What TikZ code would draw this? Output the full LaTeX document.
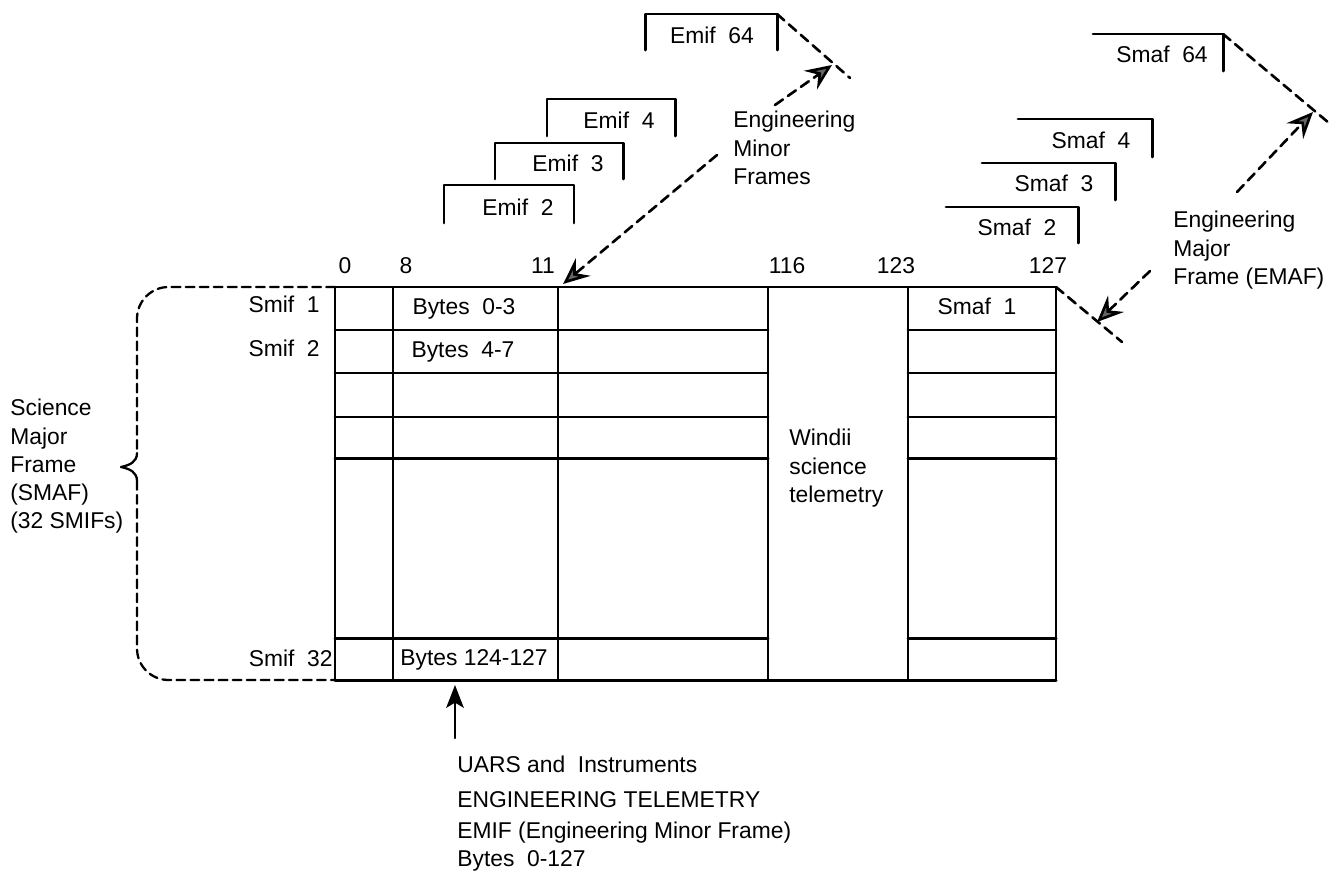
\documentclass[tikz,border=0pt]{standalone}
\usepackage{fontspec}
\setmainfont{Liberation Sans}
\usetikzlibrary{arrows.meta}
\tikzset{
	rowline/.style={line width=1.7pt},
	colline/.style={line width=1.3pt},
	dashline/.style={line width=1.5pt, dash pattern=on 5.5pt off 3.5pt},
	bracket/.style={line width=1.3pt, dash pattern=on 5pt off 3pt},
	tipgray/.style={-{Stealth[length=15pt, width=13pt, inset=5.5pt, fill=black!60]}},
	tipblack/.style={-{Stealth[length=13pt, width=10pt, inset=3pt]}},
	txt/.style={inner sep=0pt}
}
\begin{document}
\begin{tikzpicture}[x=0.02cm, y=-0.02cm, font=\fontsize{13}{16}\selectfont, line join=round, line cap=round]
	\useasboundingbox (0,0) rectangle (1329,876);
	\path
	(335,287) coordinate (NW)
	(1056,287) coordinate (NE)
	(335,680) coordinate (SW)
	(1056,680) coordinate (SE)
	(777,14) coordinate (E64)
	(850,78) coordinate (E64end)
	(1223,34) coordinate (S64)
	(1329,123) coordinate (S64end)
	(1122,342) coordinate (NEend)
	(717,155) coordinate (mA) (563,284) coordinate (mAtip)
	(775,105) coordinate (mB) (832,65) coordinate (mBtip)
	(1150,271) coordinate (jA) (1097,322) coordinate (jAtip)
	(1237,192) coordinate (jB) (1313,112) coordinate (jBtip)
	(455,738) coordinate (up) (455,685) coordinate (uptip)
	;
	% main frame
	\draw[rowline] (NW)--(NE) (SW)--(SE);
	\foreach \y in {330,373,417,458,638}
		\draw[rowline] (335,\y)--(768,\y) (908,\y)--(1056,\y);
	\foreach \x in {335,393,558,768,908,1056}
		\draw[colline] (\x,287)--(\x,680);
	\foreach \x/\t in {345/0, 406/8, 543/11, 787/116, 896/123, 1048/127}
		\node[txt] (col\t) at (\x,266) {\t};
	
	\node[txt, anchor=mid east] (smif1) at (320,308) {Smif~~1};
	\node[txt, anchor=mid east] (smif2) at (320,352) {Smif~~2};
	\node[txt, anchor=mid east] (smif32) at (333,662) {Smif~~32};
	\node[txt] (b0) at (464,309) {Bytes~~0-3};
	\node[txt] (b4) at (463,352) {Bytes~~4-7};
	\node[txt] (b124) at (474,660) {Bytes 124-127};
	\node[txt] (smaf1) at (977,306) {Smaf~~1};
	\node[txt, align=left, anchor=north west] (windii) at (789,429) {Windii\\science\\telemetry};
	
	% left bracket
	\draw[bracket, rounded corners=18] (NW)--(137,287)--(137,453);
	\draw[line width=1.3pt] (137,453) .. controls (137,462) and (130,465) .. (121,467) .. controls (130,469) and (137,472) .. (137,481);
	\draw[bracket, rounded corners=18] (137,481)--(137,680)--(SW);
	\node[txt, align=left, anchor=north west] (smaf) at (10,399) {Science\\Major\\Frame\\(SMAF)\\(32 SMIFs)};
	
	% minor frames
	\draw[rowline] (645,50) |- (E64) -- (777,50);
	\draw[rowline] (547,136) |- (675,99) -- (675,136);
	\draw[rowline] (495,179) |- (623,143) -- (623,179);
	\draw[rowline] (444,223) |- (574,185) -- (574,223);
	\node[txt] (emif64) at (712,35) {Emif~~64};
	\node[txt] (emif4) at (619,120) {Emif~~4};
	\node[txt] (emif3) at (568,163) {Emif~~3};
	\node[txt] (emif2) at (518,207) {Emif~~2};
	\draw[dashline] (E64)--(E64end);
	\node[txt, align=left, anchor=north west] (minor) at (733,111) {Engineering\\Minor\\Frames};
	\draw[dashline, tipgray] (mA)--(mAtip);
	\draw[dashline, tipgray] (mB)--(mBtip);
	
	% major frames
	\draw[rowline] (1093,34) -| (1223,71);
	\draw[rowline] (1018,119) -| (1152,157);
	\draw[rowline] (982,163) -| (1115,200);
	\draw[rowline] (946,207) -| (1078,243);
	\node[txt] (smaf64) at (1162,54) {Smaf~~64};
	\node[txt] (smaf4) at (1091,140) {Smaf~~4};
	\node[txt] (smaf3) at (1054,183) {Smaf~~3};
	\node[txt] (smaf2) at (1017,227) {Smaf~~2};
	\draw[dashline] (S64)--(S64end);
	\draw[dashline] (NE)--(NEend);
	\node[txt, align=left, anchor=north west] (major) at (1173,211) {Engineering\\Major\\Frame (EMAF)};
	\draw[dashline, tipgray] (jA)--(jAtip);
	\draw[dashline, tipgray] (jB)--(jBtip);
	
	% engineering telemetry
	\draw[line width=1.4pt, tipblack] (up)--(uptip);
	\node[txt, anchor=mid west] (uars) at (457,768) {UARS and~~Instruments};
	\node[txt, anchor=mid west] (engtel) at (457,803) {ENGINEERING TELEMETRY};
	\node[txt, anchor=mid west] (emif) at (457,834) {EMIF (Engineering Minor Frame)};
	\node[txt, anchor=mid west] (bytes) at (457,862) {Bytes~~0-127};
\end{tikzpicture}
\end{document}
